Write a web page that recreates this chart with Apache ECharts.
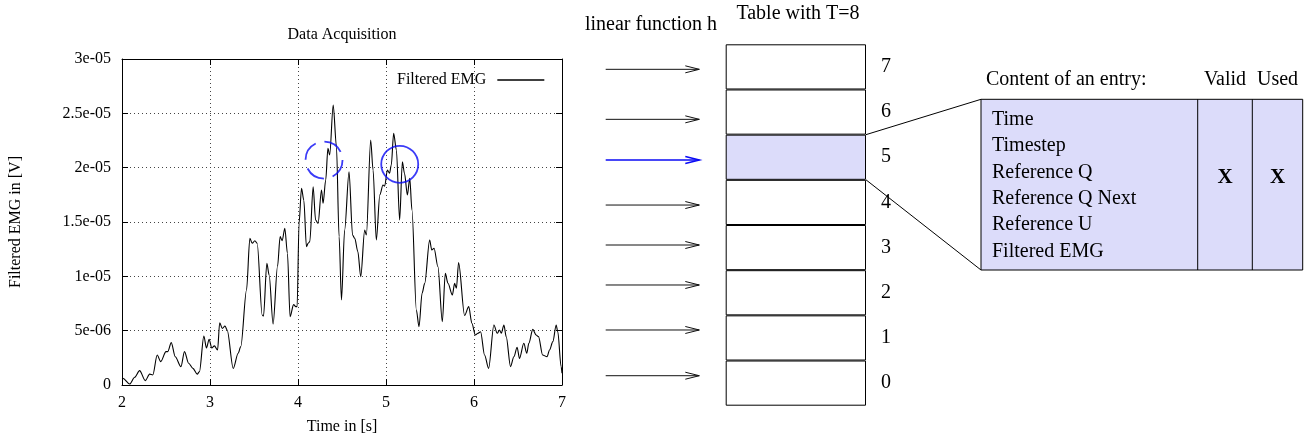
<!DOCTYPE html>
<html><head><meta charset="utf-8">
<script src="https://cdn.jsdelivr.net/npm/echarts@6/dist/echarts.min.js"></script>
<style>html,body{margin:0;padding:0;background:#fff}#c{width:1314px;height:441px}</style>
</head><body><div id="c"></div>
<script>
// ---- data ----
const timeS = [2.0,2.01,2.087,2.144,2.2,2.265,2.314,2.35,2.4,2.44,2.5,2.52,2.56,2.605,2.67,2.71,2.757,2.806,2.855,2.88,2.93,2.96,2.99,3.02,3.05,3.086,3.11,3.14,3.17,3.195,3.264,3.32,3.35,3.415,3.453,3.48,3.51,3.536,3.593,3.608,3.646,3.672,3.717,3.767,3.797,3.82,3.85,3.88,3.91,3.95,3.975,3.99,4.012,4.04,4.066,4.096,4.115,4.134,4.172,4.2,4.228,4.267,4.285,4.315,4.34,4.36,4.4,4.437,4.467,4.494,4.53,4.58,4.62,4.645,4.68,4.713,4.758,4.777,4.826,4.853,4.89,4.93,4.966,4.985,5.016,5.04,5.06,5.087,5.118,5.155,5.186,5.21,5.243,5.27,5.295,5.345,5.375,5.41,5.44,5.496,5.52,5.546,5.59,5.64,5.674,5.704,5.754,5.78,5.8,5.825,5.893,5.94,5.976,6.015,6.045,6.075,6.12,6.166,6.226,6.264,6.29,6.31,6.34,6.366,6.415,6.453,6.49,6.517,6.566,6.6,6.623,6.668,6.706,6.733,6.78,6.83,6.858,6.896,6.934,6.952,6.99,7.0];
const emgMicroV = [0.6,0.62,0.09,0.71,1.32,0.4,1.0,0.92,2.76,2.15,3.07,3.07,3.9,2.6,1.69,3.07,2.0,1.53,1.0,1.23,4.5,3.4,4.2,3.4,3.6,3.22,5.73,5.2,5.43,5.06,1.53,2.92,3.53,8.74,13.5,13.04,13.28,13.04,6.44,6.35,11.2,10.12,5.61,10.89,13.65,13.28,14.42,12.12,6.29,7.4,7.21,7.21,14.9,18.1,17.0,12.73,13.04,13.19,18.25,15.18,14.88,17.95,16.72,18.87,21.78,21.17,25.77,21.93,13.65,7.82,14.26,19.63,13.8,13.5,12.27,9.97,14.26,13.8,22.55,19.79,13.34,17.5,18.4,18.3,19.79,19.48,20.25,23.16,21.63,15.18,20.55,19.48,17.49,19.02,16.1,6.9,5.37,8.44,9.36,13.34,12.42,12.58,10.89,5.83,10.28,9.36,8.28,9.36,8.9,11.26,6.4,7.21,5.68,4.6,4.76,4.9,2.76,1.53,5.52,4.76,5.06,4.76,5.52,4.45,1.69,2.6,3.47,2.45,3.84,2.92,3.84,5.12,4.6,4.45,2.76,2.6,3.22,3.99,5.52,4.9,1.69,1.08];
const yTickLabels = ['0','5e-06','1e-05','1.5e-05','2e-05','2.5e-05','3e-05'];
const circleTimes = [4.296, 5.156];
const circleValues = [20.7, 20.31];
const circleStyles = ['dashed', 'solid'];
const tableRows = ['0','1','2','3','4','5','6','7'];
const highlightRow = 5;
const arrowLevels = [0.664,1.676,2.672,3.557,4.442,5.438,6.339,7.446];
const entryFields = ['Time','Timestep','Reference Q','Reference Q Next','Reference U','Filtered EMG'];
const entryHeaders = ['Content of an entry:','Valid','Used'];
const entryFlags = ['X','X'];

// ---- styling ----
const SERIF = '"Liberation Serif", "DejaVu Serif", serif';
const LAV = '#dcdcfa';
const BLUE = '#0a0af5';

const chart = echarts.init(document.getElementById('c'), null, {renderer: 'canvas'});

const lineData = timeS.map((t, i) => [t, emgMicroV[i]]);
const mainGrid = {left: 122, top: 59, width: 440, height: 326};
const arrowGrid = {left: 605.7, top: 44.3, width: 93.6, height: 361.4};
const tableGrid = {left: 725.7, top: 44.3, width: 140.3, height: 361.4};

const axisTxt = {color: '#000', fontFamily: SERIF, fontSize: 16};
const splitDot = {show: true, lineStyle: {color: '#444', type: [1, 3], width: 1}};

const option = {
  animation: false,
  backgroundColor: '#fff',
  grid: [
    Object.assign({containLabel: false}, mainGrid),
    Object.assign({containLabel: false}, arrowGrid),
    Object.assign({containLabel: false}, tableGrid)
  ],
  legend: {
    data: [{name: 'Filtered EMG', icon: 'rect'}],
    left: 392, top: 67,
    align: 'right',
    itemWidth: 47, itemHeight: 1.4,
    itemStyle: {color: '#000'},
    textStyle: {color: '#000', fontFamily: SERIF, fontSize: 16, padding: [0, 6, 0, 0]},
    selectedMode: false
  },
  xAxis: [
    {gridIndex: 0, type: 'value', min: 2, max: 7, interval: 1, position: 'bottom',
     axisLine: {show: true, onZero: false, lineStyle: {color: '#000', width: 1}},
     axisTick: {show: true, inside: true, length: 6, lineStyle: {color: '#000'}},
     axisLabel: Object.assign({margin: 10}, axisTxt),
     splitLine: splitDot,
     name: 'Time in [s]', nameLocation: 'middle', nameGap: 34, nameTextStyle: axisTxt},
    {gridIndex: 0, type: 'value', min: 2, max: 7, interval: 1, position: 'top',
     axisLine: {show: true, onZero: false, lineStyle: {color: '#000', width: 1}},
     axisTick: {show: true, inside: true, length: 6, lineStyle: {color: '#000'}},
     axisLabel: {show: false}, splitLine: {show: false}},
    {gridIndex: 1, type: 'value', min: 0, max: 1, show: false},
    {gridIndex: 2, type: 'value', min: 0, max: 1, show: false}
  ],
  yAxis: [
    {gridIndex: 0, type: 'value', min: 0, max: 30, interval: 5, position: 'left',
     axisLine: {show: true, onZero: false, lineStyle: {color: '#000', width: 1}},
     axisTick: {show: true, inside: true, length: 6, lineStyle: {color: '#000'}},
     axisLabel: Object.assign({margin: 11, formatter: v => yTickLabels[Math.round(v / 5)]}, axisTxt),
     splitLine: splitDot,
     name: 'Filtered EMG in [V]', nameLocation: 'middle', nameGap: 98, nameTextStyle: axisTxt},
    {gridIndex: 0, type: 'value', min: 0, max: 30, interval: 5, position: 'right',
     axisLine: {show: true, onZero: false, lineStyle: {color: '#000', width: 1}},
     axisTick: {show: true, inside: true, length: 6, lineStyle: {color: '#000'}},
     axisLabel: {show: false}, splitLine: {show: false}},
    {gridIndex: 1, type: 'value', min: 0, max: 8, show: false},
    {gridIndex: 2, type: 'category', data: tableRows, position: 'right',
     axisLine: {show: false}, axisTick: {show: false}, splitLine: {show: false},
     axisLabel: {margin: 15, color: '#000', fontFamily: SERIF, fontSize: 20}}
  ],
  series: [
    {name: 'Filtered EMG', type: 'line', xAxisIndex: 0, yAxisIndex: 0,
     data: lineData, symbol: 'none', showSymbol: false,
     smooth: 0.3, smoothMonotone: 'x',
     lineStyle: {color: '#000', width: 1.1}, itemStyle: {color: '#000'}, z: 3},
    {type: 'scatter', xAxisIndex: 0, yAxisIndex: 0, symbol: 'circle', symbolSize: 37,
     data: circleTimes.map((t, i) => ({
       value: [t, circleValues[i]],
       itemStyle: {color: 'rgba(0,0,0,0)', borderColor: BLUE, borderWidth: 1.8,
                   borderType: circleStyles[i] === 'dashed' ? [20, 9] : 'solid'}
     })), z: 4, silent: true},
    {type: 'custom', xAxisIndex: 2, yAxisIndex: 2,
     data: arrowLevels.map((lv, i) => [lv, i]),
     encode: {y: 0},
     renderItem: function (params, api) {
       const lv = api.value(0), idx = api.value(1);
       const p0 = api.coord([0, lv]), p1 = api.coord([1, lv]);
       const col = idx === highlightRow ? BLUE : '#111';
       const w = idx === highlightRow ? 1.6 : 1;
       return {type: 'group', children: [
         {type: 'line', shape: {x1: p0[0], y1: p0[1], x2: p1[0], y2: p1[1]}, style: {stroke: col, lineWidth: w}},
         {type: 'polyline', shape: {points: [[p1[0] - 14, p1[1] - 3.5], [p1[0], p1[1]], [p1[0] - 14, p1[1] + 3.5]]},
          style: {stroke: col, lineWidth: w, fill: null}}
       ]};
     }},
    {type: 'bar', xAxisIndex: 3, yAxisIndex: 3, barWidth: '100%', barCategoryGap: 0,
     data: tableRows.map((r, i) => ({value: 1, itemStyle: {color: i === highlightRow ? LAV : '#fff'}})),
     itemStyle: {borderColor: '#000', borderWidth: 1}, silent: true}
  ],
  graphic: []
};
chart.setOption(option);

// ---- diagram decorations (texts, entry box, connectors) ----
const txt = (text, x, y, size, align, weight) => ({
  type: 'text', x: x, y: y, silent: true,
  style: {text: text, fill: '#000', fontFamily: SERIF, fontSize: size, fontWeight: weight || 'normal',
          textAlign: align, textVerticalAlign: 'middle'}
});
const c5 = chart.convertToPixel({xAxisIndex: 3, yAxisIndex: 3}, [1, highlightRow]);
const c6 = chart.convertToPixel({xAxisIndex: 3, yAxisIndex: 3}, [1, highlightRow + 1]);
const halfBand = Math.abs(c5[1] - c6[1]) / 2;
const rowRight = c5[0];
const box = {x: 981, y: 99.3, w: 321.7, h: 170.7, col1: 1197.7, col2: 1252.3};
const g = [
  txt('Data Acquisition', mainGrid.left + mainGrid.width / 2, 35, 16, 'center'),
  txt('linear function h', 651, 25, 20, 'center'),
  txt('Table with T=8', 798, 14, 20, 'center'),
  {type: 'line', silent: true, shape: {x1: rowRight, y1: c5[1] - halfBand, x2: box.x, y2: box.y}, style: {stroke: '#000', lineWidth: 1}},
  {type: 'line', silent: true, shape: {x1: rowRight, y1: c5[1] + halfBand, x2: box.x, y2: box.y + box.h}, style: {stroke: '#000', lineWidth: 1}},
  {type: 'rect', silent: true, shape: {x: box.x, y: box.y, width: box.w, height: box.h}, style: {fill: LAV, stroke: '#000', lineWidth: 1}},
  {type: 'line', silent: true, shape: {x1: box.col1, y1: box.y, x2: box.col1, y2: box.y + box.h}, style: {stroke: '#000', lineWidth: 1}},
  {type: 'line', silent: true, shape: {x1: box.col2, y1: box.y, x2: box.col2, y2: box.y + box.h}, style: {stroke: '#000', lineWidth: 1}},
  txt(entryHeaders[0], 986, 80, 20, 'left'),
  txt(entryHeaders[1], (box.col1 + box.col2) / 2, 80, 20, 'center'),
  txt(entryHeaders[2], (box.col2 + box.x + box.w) / 2, 80, 20, 'center')
];
entryFields.forEach((f, i) => g.push(txt(f, 992, 119.3 + i * 26.48, 20, 'left')));
g.push(txt(entryFlags[0], (box.col1 + box.col2) / 2, 178, 21, 'center', 'bold'));
g.push(txt(entryFlags[1], (box.col2 + box.x + box.w) / 2, 178, 21, 'center', 'bold'));
chart.setOption({graphic: g});
</script>
</body></html>
